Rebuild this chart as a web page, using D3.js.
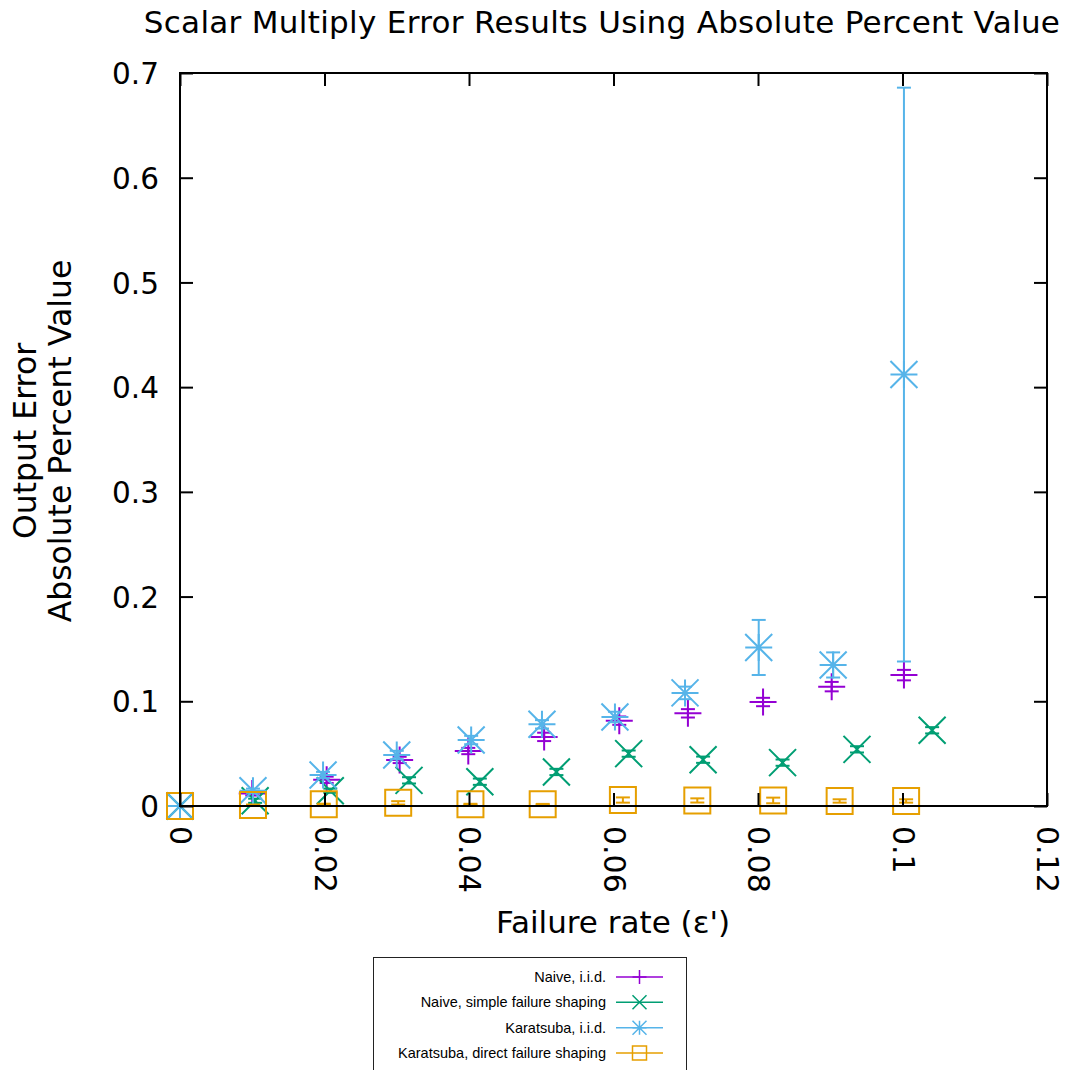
<!DOCTYPE html>
<html>
<head>
<meta charset="utf-8">
<script src="https://cdn.jsdelivr.net/npm/d3@7"></script>
<style>
  html, body { margin: 0; padding: 0; background: #fff; }
  svg { display: block; }
  text { font-family: "DejaVu Sans", sans-serif; fill: #000; }
  .legend text { font-family: "Liberation Sans", Arial, sans-serif; }
</style>
</head>
<body>
<svg id="chart" width="1073" height="1070"></svg>
<script>
// ---- data ---------------------------------------------------------------
const xTicks = [0, 0.02, 0.04, 0.06, 0.08, 0.1, 0.12];
const xTickLabels = ["0", "0.02", "0.04", "0.06", "0.08", "0.1", "0.12"];
const yTicks = [0, 0.1, 0.2, 0.3, 0.4, 0.5, 0.6, 0.7];
const yTickLabels = ["0", "0.1", "0.2", "0.3", "0.4", "0.5", "0.6", "0.7"];

const seriesNames = [
  "Naive, i.i.d.",
  "Naive, simple failure shaping",
  "Karatsuba, i.i.d.",
  "Karatsuba, direct failure shaping"
];

// Naive, i.i.d.
const naiveIidX   = [0, 0.0100, 0.0203, 0.0304, 0.0399, 0.0504, 0.0608, 0.0703, 0.0807, 0.0902, 0.1002];
const naiveIidY   = [0, 0.012, 0.025, 0.044, 0.0525, 0.066, 0.0815, 0.0885, 0.0993, 0.114, 0.125];
const naiveIidErr = [0, 0.002, 0.003, 0.003, 0.003, 0.004, 0.004, 0.004, 0.004, 0.0045, 0.005];

// Naive, simple failure shaping
const naiveShapeX   = [0, 0.0104, 0.0208, 0.0317, 0.0415, 0.0521, 0.0621, 0.0724, 0.0834, 0.0937, 0.1041];
const naiveShapeY   = [0, 0.005, 0.0146, 0.0245, 0.0232, 0.0325, 0.050, 0.0442, 0.0414, 0.0541, 0.0723];
const naiveShapeErr = [0, 0.002, 0.002, 0.003, 0.003, 0.003, 0.003, 0.003, 0.003, 0.003, 0.003];

// Karatsuba, i.i.d.
const karaIidX   = [0, 0.0101, 0.0198, 0.0300, 0.0403, 0.0501, 0.0602, 0.0699, 0.0801, 0.0904, 0.1002];
const karaIidY   = [0, 0.0146, 0.0296, 0.0487, 0.063, 0.078, 0.085, 0.108, 0.1514, 0.1347, 0.412];
const karaIidErr = [0, 0.002, 0.003, 0.004, 0.004, 0.004, 0.005, 0.006, 0.0263, 0.012, 0.274];

// Karatsuba, direct failure shaping
const karaShapeX   = [0, 0.0101, 0.0199, 0.0302, 0.0402, 0.0502, 0.0613, 0.0716, 0.0821, 0.0913, 0.1005];
const karaShapeY   = [0, 0.001, 0.0017, 0.003, 0.0016, 0.0016, 0.0057, 0.0053, 0.0053, 0.0048, 0.0048];
const karaShapeErr = [0, 0.0004, 0.0005, 0.0016, 0.0005, 0.0004, 0.0025, 0.002, 0.0027, 0.0016, 0.0016];

const colors  = ["#9400d3", "#009e73", "#56b4e9", "#e69f00"];
const symbols = ["plus", "cross", "star", "square"];

const series = [
  { xs: naiveIidX,   ys: naiveIidY,   es: naiveIidErr },
  { xs: naiveShapeX, ys: naiveShapeY, es: naiveShapeErr },
  { xs: karaIidX,    ys: karaIidY,    es: karaIidErr },
  { xs: karaShapeX,  ys: karaShapeY,  es: karaShapeErr }
].map((s, i) => ({
  name: seriesNames[i], color: colors[i], symbol: symbols[i],
  points: s.xs.map((x, j) => ({ x, y: s.ys[j], e: s.es[j] }))
}));

// ---- layout -------------------------------------------------------------
const plot = { left: 180, right: 1047, top: 73, bottom: 806 };
const svg = d3.select("#chart");

const x = d3.scaleLinear().domain([0, 0.12]).range([plot.left, plot.right]);
const y = d3.scaleLinear().domain([0, 0.7]).range([plot.bottom, plot.top]);

// marker path centred on 0,0 with half-size r
function markerPath(type, r) {
  const p = d3.path();
  if (type === "plus" || type === "star") {
    p.moveTo(-r, 0); p.lineTo(r, 0);
    p.moveTo(0, -r); p.lineTo(0, r);
  }
  if (type === "cross" || type === "star") {
    p.moveTo(-r, -r); p.lineTo(r, r);
    p.moveTo(-r, r); p.lineTo(r, -r);
  }
  if (type === "square") {
    p.rect(-r, -r, 2 * r, 2 * r);
  }
  return p.toString();
}

// ---- data marks ---------------------------------------------------------
const capHalf = 7;
const dataLayer = svg.append("g").attr("class", "data");

series.forEach(s => {
  const g = dataLayer.append("g")
    .attr("stroke", s.color).attr("fill", "none").attr("stroke-width", 2);

  // error bars
  const eb = g.selectAll("g.err").data(s.points.filter(d => d.e > 0)).join("g").attr("class", "err");
  eb.append("line")
    .attr("x1", d => x(d.x)).attr("x2", d => x(d.x))
    .attr("y1", d => y(d.y - d.e)).attr("y2", d => y(d.y + d.e));
  eb.append("line")
    .attr("x1", d => x(d.x) - capHalf).attr("x2", d => x(d.x) + capHalf)
    .attr("y1", d => y(d.y + d.e)).attr("y2", d => y(d.y + d.e));
  eb.append("line")
    .attr("x1", d => x(d.x) - capHalf).attr("x2", d => x(d.x) + capHalf)
    .attr("y1", d => y(d.y - d.e)).attr("y2", d => y(d.y - d.e));

  // point symbols
  const r = s.symbol === "square" ? 13 : 13.5;
  g.selectAll("path.pt").data(s.points).join("path").attr("class", "pt")
    .attr("transform", d => `translate(${x(d.x)},${y(d.y)})`)
    .attr("d", markerPath(s.symbol, r));
});

// ---- axes / border (drawn in front) ------------------------------------
const tickLen = 13;
const axisStyle = g => {
  g.select(".domain").remove();
  g.selectAll(".tick line").attr("stroke", "#000").attr("stroke-width", 2);
};

const xAxisBottom = svg.append("g")
  .attr("transform", `translate(0,${plot.bottom})`)
  .call(d3.axisBottom(x).tickValues(xTicks).tickSize(-tickLen)
        .tickFormat((d, i) => xTickLabels[i]))
  .call(axisStyle);
xAxisBottom.selectAll(".tick text")
  .attr("x", 0).attr("y", 0).attr("dy", "0.34em")
  .attr("text-anchor", "start")
  .attr("transform", "translate(0,20) rotate(90)")
  .attr("font-size", 30).attr("font-family", "DejaVu Sans").attr("fill", "#000");

svg.append("g")
  .attr("transform", `translate(0,${plot.top})`)
  .call(d3.axisTop(x).tickValues(xTicks).tickSize(-tickLen).tickFormat(""))
  .call(axisStyle);

const yAxisLeft = svg.append("g")
  .attr("transform", `translate(${plot.left},0)`)
  .call(d3.axisLeft(y).tickValues(yTicks).tickSize(-tickLen)
        .tickFormat((d, i) => yTickLabels[i]))
  .call(axisStyle);
yAxisLeft.selectAll(".tick text")
  .attr("x", -21).attr("dy", "0.36em")
  .attr("font-size", 29.5).attr("font-family", "DejaVu Sans").attr("fill", "#000");

svg.append("g")
  .attr("transform", `translate(${plot.right},0)`)
  .call(d3.axisRight(y).tickValues(yTicks).tickSize(-tickLen).tickFormat(""))
  .call(axisStyle);

svg.append("rect")
  .attr("x", plot.left).attr("y", plot.top)
  .attr("width", plot.right - plot.left).attr("height", plot.bottom - plot.top)
  .attr("fill", "none").attr("stroke", "#000").attr("stroke-width", 2);

// ---- titles -------------------------------------------------------------
svg.append("text")
  .attr("x", 602).attr("y", 33)
  .attr("text-anchor", "middle").attr("font-size", 31)
  .attr("letter-spacing", 0.3)
  .text("Scalar Multiply Error Results Using Absolute Percent Value");

svg.append("text")
  .attr("x", 613).attr("y", 933)
  .attr("text-anchor", "middle").attr("font-size", 31)
  .text("Failure rate (\u03b5')");

const yLabel = svg.append("text")
  .attr("transform", "translate(0,441) rotate(-90)")
  .attr("text-anchor", "middle").attr("font-size", 31.5);
yLabel.append("tspan").attr("x", 0).attr("y", 36).text("Output Error");
yLabel.append("tspan").attr("x", 0).attr("y", 71).text("Absolute Percent Value");

// ---- legend -------------------------------------------------------------
const legend = svg.append("g").attr("class", "legend");
legend.append("rect")
  .attr("x", 373.5).attr("y", 957.5).attr("width", 313).attr("height", 140)
  .attr("fill", "none").attr("stroke", "#222").attr("stroke-width", 1);

const legendRowY = d3.scalePoint().domain(seriesNames).range([977, 1053]);
const items = legend.selectAll("g.item").data(series).join("g").attr("class", "item")
  .attr("transform", d => `translate(0,${legendRowY(d.name)})`);
items.append("text")
  .attr("x", 606).attr("dy", "0.35em").attr("text-anchor", "end")
  .attr("font-size", 14.5).text(d => d.name);
items.append("line")
  .attr("x1", 616).attr("x2", 663)
  .attr("stroke", d => d.color).attr("stroke-width", 1.5);
items.append("path")
  .attr("transform", "translate(639.5,0)")
  .attr("d", d => markerPath(d.symbol, 7))
  .attr("fill", "none").attr("stroke", d => d.color).attr("stroke-width", 1.5);
</script>
</body>
</html>
